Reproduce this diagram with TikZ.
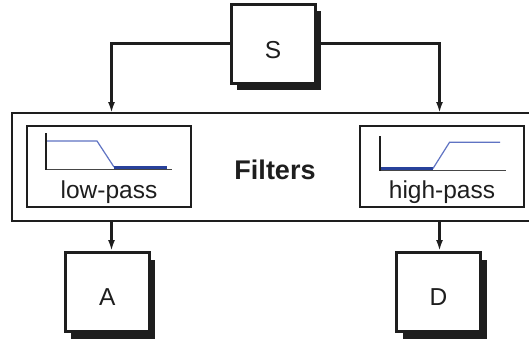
\documentclass[tikz,border=0pt]{standalone}
\usepackage{fontspec}
\setmainfont{Liberation Sans}
\usetikzlibrary{arrows.meta,shadows}
\definecolor{ink}{RGB}{30,30,30}
\definecolor{lblue}{RGB}{95,115,195}
\definecolor{dblue}{RGB}{40,65,155}
\definecolor{axisgray}{RGB}{70,70,70}
\begin{document}
\begin{tikzpicture}[x=1pt,y=-1pt,
  blk/.style={draw=ink, line width=3pt, fill=white, minimum width=84pt,
    minimum height=79pt, inner sep=0pt,
    drop shadow={shadow xshift=6pt,shadow yshift=-7pt,fill=ink,opacity=1}},
  fbox/.style={draw=ink, line width=2.8pt, fill=white, minimum width=164pt,
    minimum height=81pt, inner sep=0pt},
  outer/.style={draw=ink, line width=2.4pt, fill=white, minimum width=528pt,
    minimum height=108pt, inner sep=0pt},
  conn/.style={draw=ink, line width=2.3pt, -{Latex[length=11pt,width=7pt]}},
  lbl/.style={text=ink, font=\fontsize{24.5}{28}\selectfont, inner sep=0pt},
  axisv/.style={draw=ink, line width=2pt},
  axish/.style={draw=axisgray, line width=1pt},
  thinb/.style={draw=lblue, line width=1.2pt},
  thickb/.style={draw=dblue, line width=3pt}]
\useasboundingbox (0,0) rectangle (529,343);
\clip (0,0) rectangle (529,343);
\fill[white] (0,0) rectangle (529,343);

% source
\node[blk] (S) at (273,43.5) {};
\node[lbl, anchor=center] (St) at (273,50.5) {S};

% filters frame
\node[outer] (filt) at (276,167) {};
\node[fbox] (lp) at (109,166.5) {};
\node[fbox] (hp) at (442,166.5) {};
\node[lbl, anchor=base, font=\bfseries\fontsize{27}{30}\selectfont] (ft) at (275,179) {Filters};
\node[lbl, anchor=base] (lpt) at (109,198) {low-pass};
\node[lbl, anchor=base] (hpt) at (442,198) {high-pass};

% low-pass response
\draw[axish] (46,169) -- (172,169);
\draw[axisv] (46,133) -- (46,169.5);
\draw[thinb] (47,141) -- (97,141) -- (114,167);
\draw[thickb] (114,167.3) -- (167,167.3);

% high-pass response
\draw[axish] (380,170.5) -- (506,170.5);
\draw[axisv] (380,136) -- (380,171);
\draw[thickb] (381,168.8) -- (433,168.8);
\draw[thinb] (433,168.5) -- (449.5,142.3) -- (500,142.3);

% outputs
\node[blk] (A) at (107.2,292) {};
\node[lbl, anchor=center] (At) at (107.2,297) {A};
\node[blk] (D) at (438.5,292) {};
\node[lbl, anchor=center] (Dt) at (438.5,297) {D};

% connectors
\coordinate (cl) at (111.5,113);
\coordinate (cr) at (439.5,113);
\draw[conn] (S.west) -| (cl);
\draw[conn] (S.east) -| (cr);
\draw[conn] (filt.south -| cl) -- (A.north -| cl);
\draw[conn] (filt.south -| cr) -- (D.north -| cr);
\end{tikzpicture}
\end{document}
